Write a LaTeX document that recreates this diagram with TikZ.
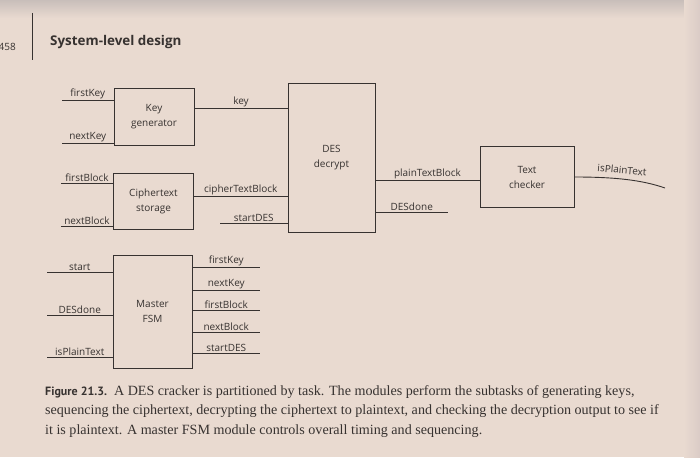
\documentclass[tikz,border=0pt]{standalone}
\usepackage{fontspec}
\setmainfont{Liberation Serif}
\newfontfamily\labfont{Open Sans}
\newfontfamily\figfont{PT Sans}
\definecolor{page}{RGB}{233,218,208}
\definecolor{shadow}{RGB}{200,190,186}
\definecolor{edge}{RGB}{218,203,198}
\definecolor{ink}{RGB}{55,50,48}
\begin{document}
\begin{tikzpicture}[x=1pt,y=-1pt,
  box/.style={draw=ink,line width=1pt,font=\labfont\fontsize{10}{15}\selectfont,text=ink,align=center,inner sep=0pt},
  wire/.style={draw=ink,line width=0.9pt},
  lbl/.style={font=\labfont\fontsize{10}{11}\selectfont,text=ink,inner sep=1pt},
  captext/.style={anchor=base west,text=ink,inner sep=0pt,font=\fontsize{14.1}{16}\selectfont}]
\fill[page] (0,0) rectangle (700,457);
\useasboundingbox (0,0) rectangle (700,457);
\shade[top color=shadow,bottom color=page] (0,0) rectangle (700,18);
\shade[left color=page,right color=edge] (684,0) rectangle (700,457);

% header
\node[anchor=east,font=\labfont\fontsize{10}{12}\selectfont,text=ink,inner sep=0pt] (pg) at (16,47) {458};
\draw[ink,line width=0.8pt] (32,13) -- (32,60);
\node[anchor=west,font=\labfont\bfseries\fontsize{13.4}{15}\selectfont,text=ink,inner sep=0pt] (hdr) at (50,42) {System-level design};

% blocks
\node[box,minimum width=80,minimum height=57] (kg) at (154,117) {Key\\generator};
\node[box,minimum width=80,minimum height=56] (cs) at (153.5,201) {Ciphertext\\storage};
\node[box,minimum width=87,minimum height=148] (des) at (331.5,158) {DES\\decrypt};
\node[box,minimum width=94,minimum height=60] (tc) at (527,177) {Text\\checker};
\node[box,minimum width=79,minimum height=113] (fsm) at (152.5,311.5) {Master\\FSM};

% key generator inputs
\coordinate (fkin) at (62,100);
\coordinate (nkin) at (62,143);
\draw[wire] (fkin) -- node[lbl,above]{firstKey} (fkin -| kg.west);
\draw[wire] (nkin) -- node[lbl,above]{nextKey} (nkin -| kg.west);
\draw[wire] (kg.east |- 0,108) -- node[lbl,above]{key} (des.west |- 0,108);

% ciphertext storage inputs
\coordinate (fbin) at (61,183);
\coordinate (nbin) at (61,226);
\draw[wire] (fbin) -- node[lbl,above]{firstBlock} (fbin -| cs.west);
\draw[wire] (nbin) -- node[lbl,above]{nextBlock} (nbin -| cs.west);
\draw[wire] (cs.east |- 0,196) -- node[lbl,above]{cipherTextBlock} (des.west |- 0,196);
\coordinate (sdin) at (220,223);
\draw[wire] (sdin) -- node[lbl,above]{startDES} (sdin -| des.west);

% DES outputs
\draw[wire] (des.east |- 0,180) -- node[lbl,above]{plainTextBlock} (tc.west |- 0,180);
\coordinate (ddout) at (448,212);
\draw[wire] (ddout -| des.east) -- node[lbl,above]{DESdone} (ddout);

% text checker output
\coordinate (ipout) at (665,188);
\draw[wire] (tc.east) .. controls (615,177) and (642,180) .. (ipout);
\node[lbl,rotate=-5] (iplbl) at (622,170) {isPlainText};

% master FSM inputs
\coordinate (stin) at (47,272);
\coordinate (ddin) at (47,315);
\coordinate (ipin) at (47,357);
\draw[wire] (stin) -- node[lbl,above]{start} (stin -| fsm.west);
\draw[wire] (ddin) -- node[lbl,above]{DESdone} (ddin -| fsm.west);
\draw[wire] (ipin) -- node[lbl,above]{isPlainText} (ipin -| fsm.west);

% master FSM outputs
\coordinate (o1) at (260,267);
\coordinate (o2) at (260,290);
\coordinate (o3) at (260,310);
\coordinate (o4) at (260,332);
\coordinate (o5) at (260,353);
\draw[wire] (o1 -| fsm.east) -- node[lbl,above]{firstKey} (o1);
\draw[wire] (o2 -| fsm.east) -- node[lbl,above]{nextKey} (o2);
\draw[wire] (o3 -| fsm.east) -- node[lbl,above]{firstBlock} (o3);
\draw[wire] (o4 -| fsm.east) -- node[lbl,above]{nextBlock} (o4);
\draw[wire] (o5 -| fsm.east) -- node[lbl,above]{startDES} (o5);

% caption
\node[captext] (cap1) at (45,395) {{\figfont\bfseries\fontsize{12}{14}\selectfont Figure 21.3.}\ \ A DES cracker is partitioned by task. The modules perform the subtasks of generating keys,};
\node[captext] (cap2) at (45,414.5) {sequencing the ciphertext, decrypting the ciphertext to plaintext, and checking the decryption output to see if};
\node[captext] (cap3) at (45,434) {it is plaintext. A master FSM module controls overall timing and sequencing.};
\end{tikzpicture}
\end{document}
